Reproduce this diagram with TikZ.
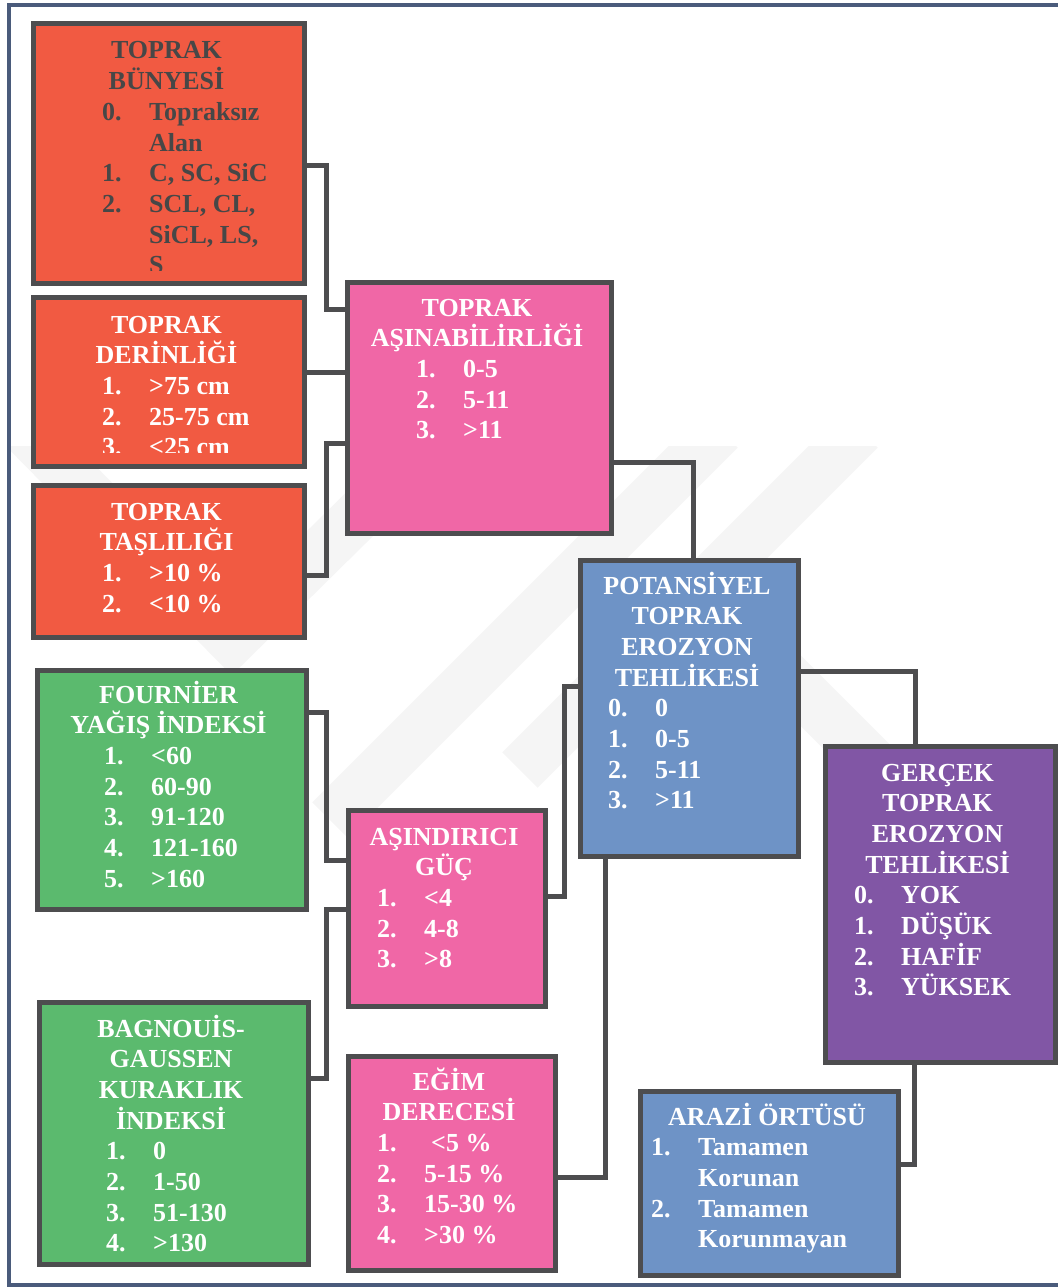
\documentclass[tikz,border=0pt]{standalone}
\usepackage{fontspec}
\setmainfont{Liberation Serif}
\usetikzlibrary{positioning,calc}

\definecolor{toprakred}{HTML}{F15A42}
\definecolor{asinpink}{HTML}{F067A6}
\definecolor{erozblue}{HTML}{6E93C6}
\definecolor{gercpurple}{HTML}{8156A5}
\definecolor{iklimgreen}{HTML}{5BBA6E}
\definecolor{linegray}{HTML}{4D4D4F}
\definecolor{framegray}{HTML}{4A5B7B}
\definecolor{darktext}{HTML}{474747}

\newcommand{\itm}[2]{\makebox[47pt][l]{#1}#2}
\newcommand{\cnt}[1]{\hspace*{47pt}#1}
\newcommand{\ttlbox}[1]{\parbox[t]{260pt}{\centering #1}}
\newcommand{\lstbox}[1]{\parbox[t]{220pt}{\raggedright #1}}

\begin{document}
\begin{tikzpicture}[x=1pt,y=-1pt,
    box/.style={draw=linegray,line width=5pt,anchor=north west,inner sep=0pt},
    conn/.style={draw=linegray,line width=5pt},
    ttl/.style={anchor=base,inner sep=0pt,text=white,
      font=\fontsize{26}{30.7}\selectfont\bfseries},
    lst/.style={anchor=base west,inner sep=0pt,text=white,
      font=\fontsize{26}{30.7}\selectfont\bfseries},
    wmark/.style={draw=black!4,line width=50pt}]
 \useasboundingbox (0,0) rectangle (1057,1287);

 % faint background mark
 \begin{scope}
   \clip (0,446) rectangle (1057,1287);
   \draw[wmark] (25,430) -- (232,640) -- (445,430);
   \draw[wmark] (720,430) -- (330,820);
   \draw[wmark] (860,430) -- (520,770);
   \draw[wmark] (700,590) -- (880,770);
 \end{scope}

 \draw[framegray,line width=4pt] (9,5) rectangle (1075,1285);

 % boxes
 \node[box,fill=toprakred,minimum width=271,minimum height=260] (bunye) at (30.5,21) {};
 \node[box,fill=toprakred,minimum width=271,minimum height=169] (derin) at (30.5,294.5) {};
 \node[box,fill=toprakred,minimum width=271,minimum height=152] (tasl) at (30.5,482.5) {};
 \node[box,fill=asinpink,minimum width=264,minimum height=251] (asin) at (344.5,279.5) {};
 \node[box,fill=erozblue,minimum width=218,minimum height=296] (pot) at (577.5,557.5) {};
 \node[box,fill=gercpurple,minimum width=230,minimum height=316] (gerc) at (822.5,743.5) {};
 \node[box,fill=iklimgreen,minimum width=269,minimum height=239] (four) at (34.5,667.5) {};
 \node[box,fill=asinpink,minimum width=197,minimum height=196] (asind) at (345.5,807.5) {};
 \node[box,fill=iklimgreen,minimum width=269,minimum height=262] (bagn) at (36.5,999.5) {};
 \node[box,fill=asinpink,minimum width=207,minimum height=214] (egim) at (345.5,1053.5) {};
 \node[box,fill=erozblue,minimum width=258,minimum height=184] (arazi) at (637.5,1088.5) {};

 % connectors
 \draw[conn] (bunye.east |- 0,165) -- ++(20,0) |- (asin.west |- 0,309);
 \draw[conn] (derin.east |- 0,372) -- (asin.west |- 0,372);
 \draw[conn] (tasl.east |- 0,575) -- ++(20,0) |- (asin.west |- 0,443);
 \draw[conn] (asin.east |- 0,462) -| (pot.north -| 693,0);
 \draw[conn] (pot.east |- 0,671) -| (gerc.north -| 915,0);
 \draw[conn] (four.east |- 0,712) -- ++(18,0) |- (asind.west |- 0,860);
 \draw[conn] (bagn.east |- 0,1078) -- ++(16,0) |- (asind.west |- 0,909);
 \draw[conn] (asind.east |- 0,896) -- ++(17,0) |- (pot.west |- 0,686);
 \draw[conn] (egim.east |- 0,1177) -| (pot.south -| 605,0);
 \draw[conn] (arazi.east |- 0,1164) -| (gerc.south -| 914,0);

 % texts
 \begin{scope}
   \clip (bunye.north west) rectangle ([yshift=16pt]bunye.south east);
   \node[ttl,text=darktext] (bunyeT) at (166.5,59) {\ttlbox{TOPRAK\\BÜNYESİ}};
   \node[lst,text=darktext] (bunyeL) at (102,120.4) {\lstbox{\itm{0.}{Topraksız}\\
     \cnt{Alan}\\ \itm{1.}{C, SC, SiC}\\ \itm{2.}{SCL, CL,}\\ \cnt{SiCL, LS,}\\ \cnt{S}}};
 \end{scope}
 \begin{scope}
   \clip (derin.north west) rectangle ([yshift=16pt]derin.south east);
   \node[ttl] (derinT) at (166.5,333) {\ttlbox{TOPRAK\\DERİNLİĞİ}};
   \node[lst] (derinL) at (102,394.4) {\lstbox{\itm{1.}{>75 cm}\\ \itm{2.}{25-75 cm}\\
     \itm{3.}{<25 cm}}};
 \end{scope}
 \node[ttl] (taslT) at (166.5,520) {\ttlbox{TOPRAK\\TAŞLILIĞI}};
 \node[lst] (taslL) at (102,581.4) {\lstbox{\itm{1.}{>10 \%}\\ \itm{2.}{<10 \%}}};

 \node[ttl] (asinT) at (477,316) {\ttlbox{TOPRAK\\AŞINABİLİRLİĞİ}};
 \node[lst] (asinL) at (416,377.4) {\lstbox{\itm{1.}{0-5}\\ \itm{2.}{5-11}\\ \itm{3.}{>11}}};

 \node[ttl] (potT) at (687,594) {\ttlbox{POTANSİYEL\\TOPRAK\\EROZYON\\TEHLİKESİ}};
 \node[lst] (potL) at (608,716.8) {\lstbox{\itm{0.}{0}\\ \itm{1.}{0-5}\\ \itm{2.}{5-11}\\
   \itm{3.}{>11}}};

 \node[ttl] (gercT) at (937.5,781) {\ttlbox{GERÇEK\\TOPRAK\\EROZYON\\TEHLİKESİ}};
 \node[lst] (gercL) at (854,903.8) {\lstbox{\itm{0.}{YOK}\\ \itm{1.}{DÜŞÜK}\\
   \itm{2.}{HAFİF}\\ \itm{3.}{YÜKSEK}}};

 \node[ttl] (fourT) at (168.5,703) {\ttlbox{FOURNİER\\YAĞIŞ İNDEKSİ}};
 \node[lst] (fourL) at (104,764.4) {\lstbox{\itm{1.}{<60}\\ \itm{2.}{60-90}\\
   \itm{3.}{91-120}\\ \itm{4.}{121-160}\\ \itm{5.}{>160}}};

 \node[ttl] (asindT) at (444,845) {\ttlbox{AŞINDIRICI\\GÜÇ}};
 \node[lst] (asindL) at (377,906.4) {\lstbox{\itm{1.}{<4}\\ \itm{2.}{4-8}\\ \itm{3.}{>8}}};

 \node[ttl] (bagnT) at (171,1037) {\ttlbox{BAGNOUİS-\\GAUSSEN\\KURAKLIK\\İNDEKSİ}};
 \node[lst] (bagnL) at (106,1159.8) {\lstbox{\itm{1.}{0}\\ \itm{2.}{1-50}\\
   \itm{3.}{51-130}\\ \itm{4.}{>130}}};

 \node[ttl] (egimT) at (449,1090) {\ttlbox{EĞİM\\DERECESİ}};
 \node[lst] (egimL) at (377,1151.4) {\lstbox{\itm{1.}{\hspace*{7pt}<5 \%}\\ \itm{2.}{5-15 \%}\\
   \itm{3.}{15-30 \%}\\ \itm{4.}{>30 \%}}};

 \node[ttl] (araziT) at (767,1125) {\ttlbox{ARAZİ ÖRTÜSÜ}};
 \node[lst] (araziL) at (651,1155.7) {\lstbox{\itm{1.}{Tamamen}\\ \cnt{Korunan}\\
   \itm{2.}{Tamamen}\\ \cnt{Korunmayan}}};
\end{tikzpicture}
\end{document}
